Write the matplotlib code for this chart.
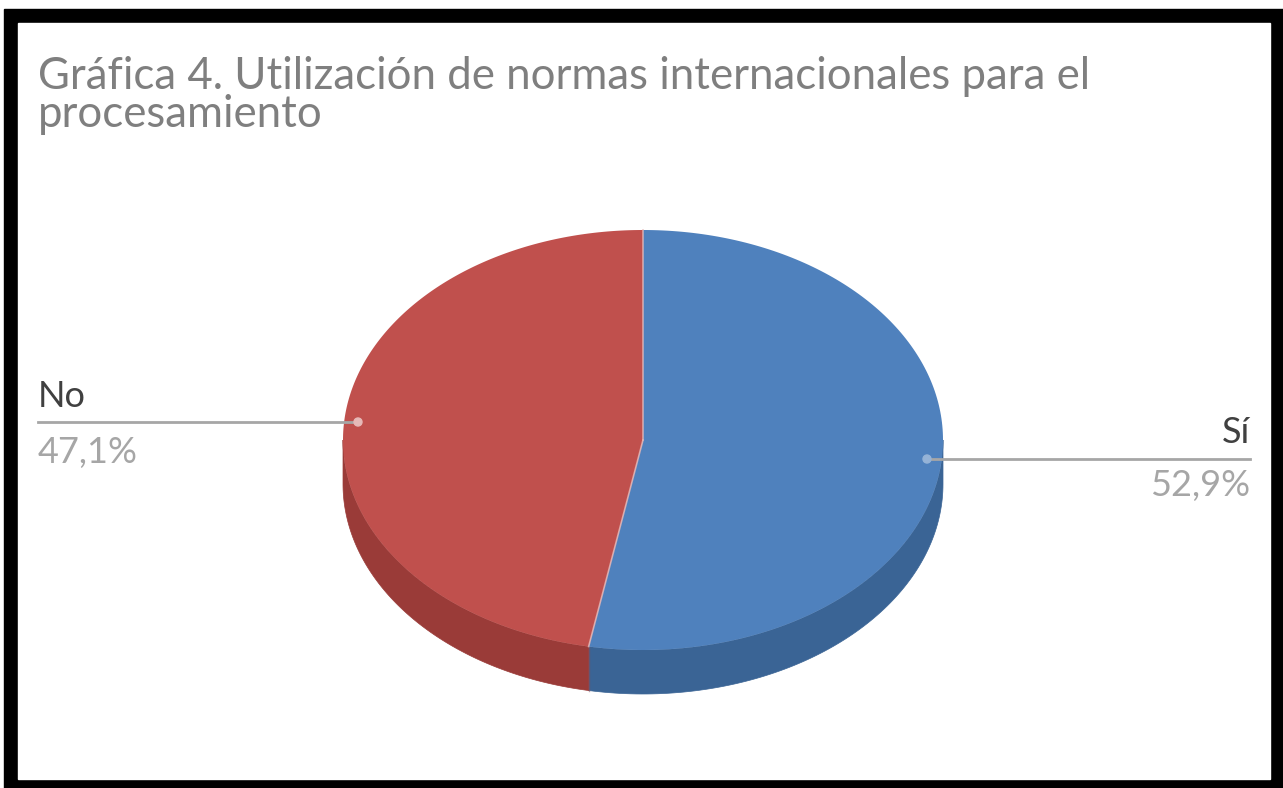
import numpy as np
import matplotlib
matplotlib.use("Agg")
import matplotlib.pyplot as plt
from matplotlib.patches import Polygon, Rectangle, Circle

# Datos de la gráfica
categorias = ["Sí", "No"]
porcentajes = [52.9, 47.1]
etiquetas = ["52,9%", "47,1%"]
colores_sup = ["#4F81BD", "#C0504D"]
colores_lado = ["#3A6495", "#9A3B38"]
titulo = ["Gráfica 4. Utilización de normas internacionales para el",
          "procesamiento"]

W, H = 1283, 788
fig = plt.figure(figsize=(W / 100, H / 100), dpi=100)
ax = fig.add_axes([0, 0, 1, 1])
ax.set_xlim(0, W)
ax.set_ylim(H, 0)
ax.axis("off")

# Marco negro
ax.add_patch(Rectangle((4, 9), W - 4, H - 9, color="black", zorder=0))
ax.add_patch(Rectangle((18, 23), 1252, 756, color="white", zorder=1))

fuente = "Lato"
for j, linea in enumerate(titulo):
    ax.text(38, 89 + 38 * j, linea, fontsize=31.5, color="#7F7F7F", family=fuente,
            va="baseline", ha="left", zorder=5)

# Pastel 3D (elipse inclinada)
cx, cy, rx, ry, prof = 643, 440, 300, 210, 44


def punto(theta, dy=0):
    # theta en grados, sentido horario desde las 12
    t = np.radians(theta)
    return cx + rx * np.sin(t), cy - ry * np.cos(t) + dy


limites = np.concatenate([[0], np.cumsum(porcentajes) / 100 * 360])

# Paredes laterales (solo la parte frontal)
for i in range(len(porcentajes)):
    a, b = max(limites[i], 90), min(limites[i + 1], 270)
    if a >= b:
        continue
    th = np.linspace(a, b, 100)
    arriba = [punto(t) for t in th]
    abajo = [punto(t, prof) for t in th[::-1]]
    ax.add_patch(Polygon(arriba + abajo, closed=True, facecolor=colores_lado[i],
                         edgecolor=colores_lado[i], lw=0.5, zorder=2))

# Caras superiores
for i in range(len(porcentajes)):
    th = np.linspace(limites[i], limites[i + 1], 200)
    pts = [(cx, cy)] + [punto(t) for t in th]
    ax.add_patch(Polygon(pts, closed=True, facecolor=colores_sup[i],
                         edgecolor="none", zorder=3))

# Bordes claros entre sectores
for l in limites[:-1]:
    x, y = punto(l)
    ax.plot([cx, x], [cy, y], color="#E6B9B8", lw=1.2, alpha=0.8, zorder=4)
x0, y0 = punto(limites[1])
ax.plot([x0, x0], [y0, y0 + prof], color="#8A4A55", lw=1, alpha=0.5, zorder=2.5)

# Etiquetas con líneas guía
gris_linea = "#A6A6A6"
tam = 26
# Sí (derecha)
ax.plot([927, 1250], [459, 459], color=gris_linea, lw=2, zorder=4)
ax.add_patch(Circle((927, 459), 4, color="#95B3D7", zorder=5))
ax.text(1250, 443, categorias[0], fontsize=tam, color="#404040", family=fuente,
        ha="right", va="baseline", zorder=5)
ax.text(1250, 496, etiquetas[0], fontsize=tam, color="#A6A6A6", family=fuente,
        ha="right", va="baseline", zorder=5)
# No (izquierda)
ax.plot([38, 358], [422, 422], color=gris_linea, lw=2, zorder=4)
ax.add_patch(Circle((358, 422), 4, color="#E6B9B8", zorder=5))
ax.text(38, 407, categorias[1], fontsize=tam, color="#404040", family=fuente,
        ha="left", va="baseline", zorder=5)
ax.text(38, 463, etiquetas[1], fontsize=tam, color="#A6A6A6", family=fuente,
        ha="left", va="baseline", zorder=5)

fig.savefig("out.png", dpi=100)
